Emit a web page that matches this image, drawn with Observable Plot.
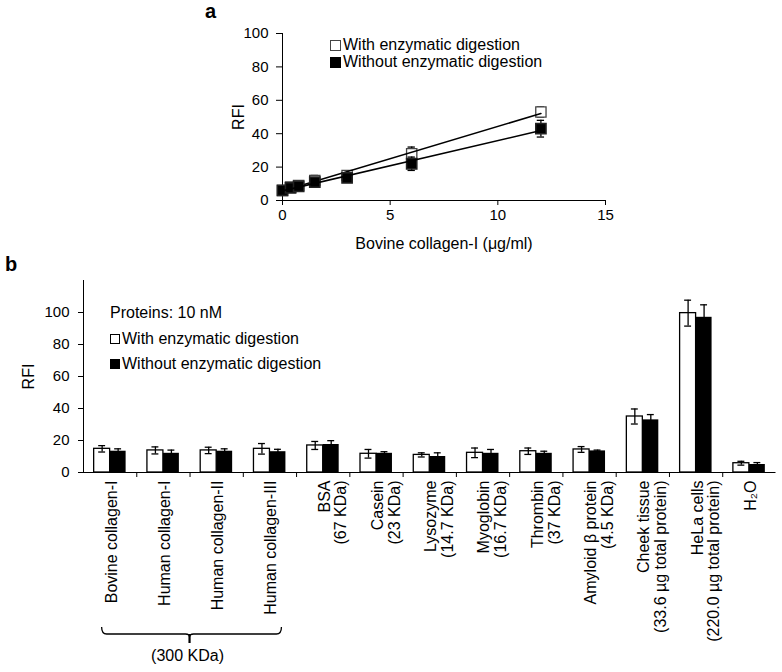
<!DOCTYPE html>
<html>
<head>
<meta charset="utf-8">
<script src="https://cdn.jsdelivr.net/npm/d3@7"></script>
<script src="https://cdn.jsdelivr.net/npm/@observablehq/plot@0.6"></script>
<style>
  body { margin: 0; background: white; font-family: Arial, "Liberation Sans", sans-serif; }
  #wrap { position: relative; width: 782px; height: 672px; overflow: hidden; }
  #wrap > div, #wrap > svg { position: absolute; }
  .panel { font-weight: bold; font-size: 20px; line-height: 20px; }
  .leg { font-size: 16px; line-height: 16px; white-space: nowrap; display: flex; align-items: center; }
  .sw { display: inline-block; width: 8px; height: 8px; border: 1px solid #000; margin-right: 2px; }
</style>
</head>
<body>
<div id="wrap"></div>
<script>
// ---------- Panel a data ----------
const concA = [0, 0.375, 0.75, 1.5, 3, 6, 12];
const withA = [6, 8, 9, 12, 15, 28, 53];
const withAErr = [2, 1.5, 1.5, 3, 2, 4, 3];
const withoutA = [6, 7.5, 8.5, 11, 13.5, 22, 43];
const withoutAErr = [2, 1.5, 1.5, 2, 2, 4, 5];
const xTicksA = [0, 5, 10, 15];
const yTicksA = [0, 20, 40, 60, 80, 100];

// ---------- Panel b data ----------
const categories = [
  "Bovine collagen-I", "Human collagen-I", "Human collagen-II", "Human collagen-III",
  "BSA\n(67 KDa)", "Casein\n(23 KDa)", "Lysozyme\n(14.7 KDa)", "Myoglobin\n(16.7 KDa)",
  "Thrombin\n(37 KDa)", "Amyloid β protein\n(4.5 KDa)",
  "Cheek tissue\n(33.6 µg total protein)", "HeLa cells\n(220.0 µg total protein)", "H₂O"
];
const withB = [14.8, 13.8, 13.8, 14.8, 16.9, 11.7, 11, 12.3, 13.3, 14.4, 35, 99.6, 5.8];
const withBErr = [2, 2.2, 2, 3.3, 2.5, 2.7, 1.3, 3, 2, 1.8, 4.7, 8.1, 1.2];
const withoutB = [13.3, 12, 13.3, 13, 17.5, 12, 10, 12, 12, 13.5, 32.9, 97, 5];
const withoutBErr = [1.5, 2, 1.5, 1.5, 2.4, 1, 2.3, 2.4, 1.3, 0.5, 3.3, 7.8, 1.2];
const yTicksB = [0, 20, 40, 60, 80, 100];
const groupLabel = "(300 KDa)";

const font = 'Arial, "Liberation Sans", sans-serif';
const wrap = document.getElementById("wrap");

// ---------- Panel a ----------
const ptsWith = concA.map((x, i) => ({x, y: withA[i], e: withAErr[i]}));
const ptsWithout = concA.map((x, i) => ({x, y: withoutA[i], e: withoutAErr[i]}));
const capA = 0.17;

const errMarks = (pts) => [
  Plot.ruleX(pts, {x: "x", y1: d => d.y - d.e, y2: d => d.y + d.e, stroke: "black", strokeWidth: 1.3}),
  Plot.ruleY(pts, {y: d => d.y + d.e, x1: d => d.x - capA, x2: d => d.x + capA, stroke: "black", strokeWidth: 1.3}),
  Plot.ruleY(pts, {y: d => d.y - d.e, x1: d => d.x - capA, x2: d => d.x + capA, stroke: "black", strokeWidth: 1.3})
];

const plotA = Plot.plot({
  width: 782, height: 262,
  marginLeft: 282, marginRight: 177, marginTop: 33, marginBottom: 62,
  style: {fontFamily: font, fontSize: "15px", color: "black", background: "transparent", overflow: "visible"},
  x: {domain: [0, 15]},
  y: {domain: [0, 100]},
  marks: [
    Plot.axisY({ticks: yTicksA, tickSize: 6, tickPadding: 8, label: null, fontSize: 15}),
    Plot.axisY({ticks: [], tickSize: 0, label: "RFI", labelArrow: "none", labelAnchor: "center", labelOffset: 50, fontSize: 16}),
    Plot.axisX({ticks: xTicksA, tickSize: 5, tickPadding: 4, label: null, fontSize: 15}),
    Plot.axisX({ticks: [], tickSize: 0, label: "Bovine collagen-I (μg/ml)", labelArrow: "none", labelAnchor: "center", labelOffset: 48, fontSize: 16}),
    Plot.ruleX([0], {y1: 0, y2: 100, stroke: "black"}),
    Plot.ruleY([0], {x1: 0, x2: 15, stroke: "black"}),
    ...errMarks(ptsWith),
    Plot.dot(ptsWith, {x: "x", y: "y", symbol: "square", r: 5.8, fill: "white", stroke: "#444", strokeWidth: 1.3}),
    Plot.linearRegressionY(ptsWith, {x: "x", y: "y", ci: 0, stroke: "black", strokeWidth: 1.6}),
    ...errMarks(ptsWithout),
    Plot.dot(ptsWithout, {x: "x", y: "y", symbol: "square", r: 5.8, fill: "black", stroke: "#222"}),
    Plot.linearRegressionY(ptsWithout, {x: "x", y: "y", ci: 0, stroke: "black", strokeWidth: 1.6})
  ]
});
plotA.style.left = "0px"; plotA.style.top = "0px";
wrap.appendChild(plotA);

// ---------- Panel b ----------
const idx = categories.map((_, i) => i);
const barW = 0.3;
const capB = 0.065;
const rowsWith = idx.map(i => ({i, c: i - barW / 2, y: withB[i], e: withBErr[i]}));
const rowsWithout = idx.map(i => ({i, c: i + barW / 2, y: withoutB[i], e: withoutBErr[i]}));
const boundaries = idx.slice(0, -1).map(i => i + 0.5);

const errB = (rows) => [
  Plot.ruleX(rows, {x: "c", y1: d => d.y - d.e, y2: d => d.y + d.e, stroke: "black", strokeWidth: 1.3}),
  Plot.ruleY(rows, {y: d => d.y + d.e, x1: d => d.c - capB, x2: d => d.c + capB, stroke: "black", strokeWidth: 1.3}),
  Plot.ruleY(rows, {y: d => d.y - d.e, x1: d => d.c - capB, x2: d => d.c + capB, stroke: "black", strokeWidth: 1.3})
];

const plotB = Plot.plot({
  width: 782, height: 402,
  marginLeft: 83, marginRight: 6.5, marginTop: 10, marginBottom: 200,
  style: {fontFamily: font, fontSize: "16px", color: "black", background: "transparent", overflow: "visible"},
  x: {type: "linear", domain: [-0.5, 12.5]},
  y: {domain: [0, 120]},
  marks: [
    Plot.axisY({ticks: yTicksB, tickSize: 5, tickPadding: 9, label: null, fontSize: 15}),
    Plot.axisY({ticks: [], tickSize: 0, label: "RFI", labelArrow: "none", labelAnchor: "center", labelOffset: 61, fontSize: 16}),
    Plot.axisX({ticks: boundaries, tickSize: 5, tickFormat: () => "", label: null}),
    Plot.rectY(rowsWith, {x1: d => d.i - barW, x2: d => d.i, y1: 0, y2: "y", fill: "white", stroke: "black", strokeWidth: 1.3}),
    Plot.rectY(rowsWithout, {x1: d => d.i, x2: d => d.i + barW, y1: 0, y2: "y", fill: "black"}),
    ...errB(rowsWith),
    ...errB(rowsWithout),
    Plot.ruleX([-0.5], {stroke: "black"}),
    Plot.ruleY([0], {stroke: "black"}),
    Plot.text(idx, {x: i => i, frameAnchor: "bottom", text: i => categories[i], rotate: -90,
      textAnchor: "end", lineAnchor: "top", dy: 8, dx: -5.5, fontSize: 16, lineHeight: 1.05})
  ]
});
plotB.style.left = "0px"; plotB.style.top = "270px";
wrap.appendChild(plotB);

// bracket grouping the four collagens, placed with the plot's own x scale
const sx = plotB.scale("x");
const xa = sx.apply(0) - 8, xb = sx.apply(3) + 12, xm = (sx.apply(0) + sx.apply(3)) / 2;
const yTop = 627 - 270, yMid = 634 - 270, yTip = 643 - 270;
const svgB = d3.select(plotB);
svgB.append("path")
  .attr("d", `M${xa},${yTop} Q${xa},${yMid} ${xa + 5},${yMid} L${xm - 4},${yMid} Q${xm},${yMid} ${xm},${yMid + 3} Q${xm},${yMid} ${xm + 4},${yMid} L${xb - 5},${yMid} Q${xb},${yMid} ${xb},${yTop}`)
  .attr("fill", "none").attr("stroke", "black").attr("stroke-width", 1.3);
svgB.append("line").attr("x1", xm).attr("x2", xm).attr("y1", yMid).attr("y2", yTip)
  .attr("stroke", "black").attr("stroke-width", 2.2);
svgB.append("text").attr("x", xm - 2).attr("y", 661 - 270).attr("text-anchor", "middle")
  .attr("font-size", 16).attr("font-family", font).text(groupLabel);

// ---------- labels and legends ----------
function addDiv(html, cls, left, top) {
  const d = document.createElement("div");
  d.className = cls; d.innerHTML = html;
  d.style.left = left + "px"; d.style.top = top + "px";
  wrap.appendChild(d);
  return d;
}
addDiv("a", "panel", 205, 1);
addDiv("b", "panel", 5, 254);

addDiv('<span class="sw" style="background:white;border-color:#444;width:9px;height:9px"></span>With enzymatic digestion', "leg", 330, 37);
addDiv('<span class="sw" style="background:black;width:9px;height:9px"></span>Without enzymatic digestion', "leg", 330, 54);

addDiv("Proteins: 10 nM", "leg", 110, 305);
addDiv('<span class="sw" style="background:white"></span>With enzymatic digestion', "leg", 110, 331);
addDiv('<span class="sw" style="background:black"></span>Without enzymatic digestion', "leg", 110, 356);
</script>
</body>
</html>
